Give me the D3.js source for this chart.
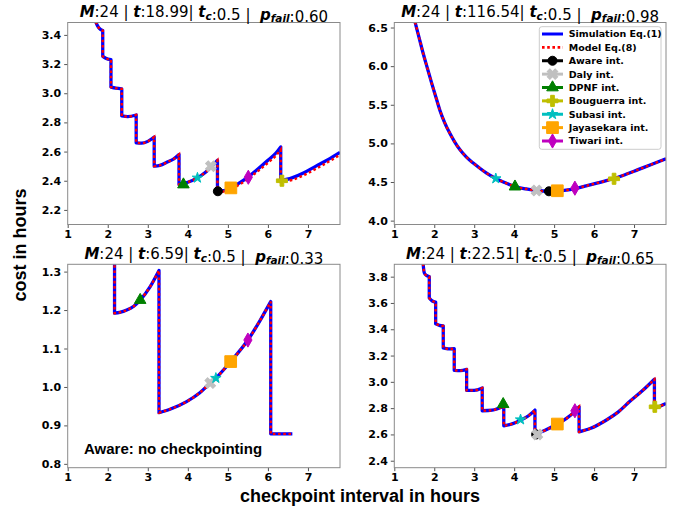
<!DOCTYPE html>
<html>
<head>
<meta charset="utf-8">
<script src="https://cdn.jsdelivr.net/npm/d3@7"></script>
<style>
body { margin: 0; background: #fff; }
svg { display: block; }
</style>
</head>
<body>
<svg id="vis" width="678" height="512"></svg>
<script>
var svg = d3.select("#vis");

// legend entries / marker styles
var methods = ["Aware int.", "Daly int.", "DPNF int.", "Bouguerra int.", "Subasi int.", "Jayasekara int.", "Tiwari int."];
var methodColors = ["#000000", "#c0c0c0", "#008000", "#bfbf00", "#00bfbf", "#ffa500", "#bf00bf"];
var methodShapes = ["circle", "x", "triangle", "plus", "star", "square", "diamond"];

// title values
var tVals = ["18.99", "116.54", "6.59", "22.51"];
var pfailVals = ["0.60", "0.98", "0.33", "0.65"];
var mVal = "24", tcVal = "0.5";

var xTicks = [1, 2, 3, 4, 5, 6, 7];
var yTicks1 = [2.2, 2.4, 2.6, 2.8, 3.0, 3.2, 3.4];
var yTicks2 = [4.0, 4.5, 5.0, 5.5, 6.0, 6.5];
var yTicks3 = [0.8, 0.9, 1.0, 1.1, 1.2, 1.3];
var yTicks4 = [2.4, 2.6, 2.8, 3.0, 3.2, 3.4, 3.6, 3.8];
var xDomain = [1, 7.8];
var yDomains = [[2.1, 3.485], [3.95, 6.565], [0.79, 1.319], [2.347, 3.894]];

// cost curves, [interval, cost]
var sim1 = [[1.70,3.49],[1.75,3.46],[1.79,3.445],[1.875,3.43],
  [1.875,3.253],[1.95,3.24],[2.08,3.23],
  [2.08,3.042],[2.2,3.035],[2.35,3.03],
  [2.35,2.844],[2.5,2.84],[2.71,2.851],
  [2.71,2.66],[2.85,2.658],[3.0,2.67],[3.16,2.70],
  [3.16,2.50],[3.3,2.505],[3.5,2.53],[3.65,2.55],[3.78,2.58],
  [3.78,2.375],[4.0,2.39],[4.24,2.42],[4.45,2.46],[4.6,2.50],[4.74,2.54],
  [4.74,2.33],[4.9,2.332],[5.08,2.352],[5.3,2.387],[5.51,2.427],[5.75,2.48],[6.0,2.54],[6.2,2.59],[6.32,2.632],
  [6.32,2.40],[6.6,2.42],[6.9,2.455],[7.2,2.50],[7.5,2.545],[7.8,2.595]];
var model1 = [[1.70,3.49],[1.75,3.46],[1.79,3.445],[1.875,3.43],
  [1.875,3.253],[1.95,3.24],[2.08,3.23],
  [2.08,3.042],[2.2,3.035],[2.35,3.03],
  [2.35,2.844],[2.5,2.84],[2.71,2.851],
  [2.71,2.66],[2.85,2.658],[3.0,2.67],[3.16,2.70],
  [3.16,2.50],[3.3,2.505],[3.5,2.53],[3.65,2.55],[3.78,2.58],
  [3.78,2.375],[4.0,2.39],[4.24,2.42],[4.45,2.46],[4.6,2.50],[4.74,2.54],
  [4.74,2.325],[4.9,2.326],[5.08,2.343],[5.3,2.376],[5.51,2.414],[5.75,2.466],[6.0,2.523],[6.2,2.572],[6.32,2.612],
  [6.32,2.392],[6.6,2.405],[6.9,2.438],[7.2,2.482],[7.5,2.528],[7.8,2.578]];
var sim2 = [[1.52,6.57],[1.62,6.37],[1.725,6.16],[1.83,5.97],[1.935,5.78],[2.04,5.60],[2.14,5.43],
  [2.26,5.27],[2.39,5.13],[2.51,5.02],[2.64,4.92],[2.8,4.825],[2.975,4.745],[3.15,4.675],[3.31,4.615],
  [3.54,4.545],[3.78,4.49],[4.02,4.44],[4.3,4.41],[4.56,4.39],[4.85,4.38],[5.08,4.385],[5.3,4.395],
  [5.52,4.415],[5.8,4.45],[6.1,4.49],[6.5,4.545],[6.8,4.60],[7.1,4.66],[7.45,4.73],[7.8,4.80]];
var model2 = sim2.map(function(d) { return d.slice(); });
var sim3 = [[2.17,1.33],[2.17,1.192],[2.3,1.194],[2.475,1.20],[2.65,1.21],[2.81,1.226],[3.06,1.261],[3.28,1.303],
  [3.28,0.933],[3.6,0.944],[3.97,0.962],[4.3,0.985],[4.56,1.01],[4.70,1.023],[5.07,1.066],[5.5,1.122],[5.81,1.174],[6.07,1.222],
  [6.07,0.878],[6.61,0.878]];
var model3 = sim3.map(function(d) { return d.slice(); });
var sim4 = [[1.72,3.90],[1.75,3.83],[1.80,3.81],[1.875,3.80],
  [1.875,3.638],[1.95,3.615],[2.035,3.607],
  [2.035,3.442],[2.13,3.43],[2.225,3.425],
  [2.225,3.258],[2.36,3.25],[2.5,3.252],
  [2.5,3.088],[2.65,3.085],[2.81,3.095],
  [2.81,2.936],[3.0,2.935],[3.2,2.953],
  [3.2,2.78],[3.45,2.785],[3.74,2.815],
  [3.74,2.666],[3.95,2.68],[4.16,2.708],[4.35,2.74],[4.52,2.785],
  [4.52,2.60],[4.8,2.635],[5.08,2.679],[5.3,2.72],[5.5,2.77],[5.625,2.81],
  [5.625,2.62],[5.9,2.645],[6.31,2.71],[6.6,2.77],[6.89,2.85],[7.2,2.93],[7.51,3.02],
  [7.51,2.80],[7.65,2.815],[7.8,2.835]];
var model4 = sim4.map(function(d) { return d.slice(); });

// marker positions, same order as methods (null = not shown)
var marks1 = [[4.75,2.328],[4.575,2.50],[3.89,2.374],[6.35,2.40],[4.24,2.42],[5.075,2.351],[5.51,2.424]];
var marks2 = [[4.87,4.38],[4.56,4.39],[4.02,4.44],[6.5,4.542],[3.54,4.545],[5.08,4.387],[5.52,4.42]];
var marks3 = [null,[4.56,1.01],[2.81,1.226],null,[4.70,1.023],[5.07,1.066],[5.50,1.122]];
var marks4 = [[4.55,2.60],[4.58,2.60],[3.725,2.83],[7.52,2.81],[4.16,2.713],[5.08,2.679],[5.52,2.78]];

var panels = [
  { box: [67.7, 22.5, 272.3, 202], sim: sim1, model: model1, marks: marks1, yTicks: yTicks1 },
  { box: [394.3, 22.5, 271.7, 202], sim: sim2, model: model2, marks: marks2, yTicks: yTicks2 },
  { box: [67.7, 264.3, 272.3, 203.4], sim: sim3, model: model3, marks: marks3, yTicks: yTicks3 },
  { box: [394.3, 264.3, 271.7, 203.4], sim: sim4, model: model4, marks: marks4, yTicks: yTicks4 }
];

var tickFont = "'DejaVu Sans', sans-serif";
var labelFont = "'Liberation Sans', Arial, sans-serif";

function markerPath(shape) {
  var m = {
    circle: [d3.symbolCircle, 64], x: [d3.symbolCross, 70], triangle: [d3.symbolTriangle, 58],
    plus: [d3.symbolCross, 68], star: [d3.symbolStar, 34], square: [d3.symbolSquare, 137], diamond: [d3.symbolDiamond, 58]
  }[shape];
  return d3.symbol(m[0], m[1])();
}

function drawMarker(g, shape, color, x, y) {
  g.append("path")
    .attr("d", markerPath(shape))
    .attr("transform", `translate(${x},${y})` + (shape == "x" ? " rotate(45)" : ""))
    .attr("fill", color)
    .attr("stroke", color)
    .attr("stroke-width", 1);
}

// split at vertical jumps so each run can be smoothed, then stitch together
function curvePath(pts, x, y) {
  var runs = [[pts[0]]];
  for (var i = 1; i < pts.length; i++) {
    if (pts[i][0] == pts[i - 1][0]) runs.push([pts[i]]);
    else runs[runs.length - 1].push(pts[i]);
  }
  var line = d3.line().x(d => x(d[0])).y(d => y(d[1])).curve(d3.curveMonotoneX);
  return runs.map(function(r, i) {
    var s = r.length > 1 ? line(r) : `M${x(r[0][0])},${y(r[0][1])}`;
    return i ? "L" + s.slice(1) : s;
  }).join("");
}

panels.forEach(function(p, pi) {
  var L = p.box[0], T = p.box[1], W = p.box[2], H = p.box[3];
  var x = d3.scaleLinear().domain(xDomain).range([L, L + W]);
  var y = d3.scaleLinear().domain(yDomains[pi]).range([T + H, T]);

  svg.append("clipPath").attr("id", "clip" + pi)
    .append("rect").attr("x", L).attr("y", T).attr("width", W).attr("height", H);

  var plot = svg.append("g").attr("clip-path", `url(#clip${pi})`);

  plot.append("path")
    .attr("d", curvePath(p.sim, x, y))
    .attr("fill", "none").attr("stroke", "#0000ff").attr("stroke-width", 3.3)
    .attr("stroke-linejoin", "round");
  plot.append("path")
    .attr("d", curvePath(p.model, x, y))
    .attr("fill", "none").attr("stroke", "#ff0000").attr("stroke-width", 2.4)
    .attr("stroke-dasharray", "2.6,2.6");

  p.marks.forEach(function(m, k) {
    if (m) drawMarker(plot, methodShapes[k], methodColors[k], x(m[0]), y(m[1]));
  });

  // axes
  var ya = svg.append("g").attr("transform", `translate(${L},0)`)
    .call(d3.axisLeft(y).tickValues(p.yTicks).tickFormat(d3.format(".1f")).tickSize(3.5).tickPadding(3));
  var xa = svg.append("g").attr("transform", `translate(0,${T + H})`)
    .call(d3.axisBottom(x).tickValues(xTicks).tickFormat(d3.format("d")).tickSize(3.5).tickPadding(2.5));
  [ya, xa].forEach(function(a) {
    a.select(".domain").remove();
    a.selectAll(".tick line").attr("stroke", "#555");
    a.selectAll(".tick text").attr("fill", "#000").style("font-family", tickFont)
      .style("font-size", "11px").style("font-weight", "bold");
  });

  svg.append("rect")
    .attr("x", L).attr("y", T).attr("width", W).attr("height", H)
    .attr("fill", "none").attr("stroke", "#8a8a8a").attr("stroke-width", 1);

  // title with math-style symbols
  var title = svg.append("text")
    .attr("x", L + W / 2).attr("y", T - 5.3)
    .attr("text-anchor", "middle")
    .style("font-family", tickFont).style("font-size", "15px")
    .style("white-space", "pre");
  var bi = function(s) { return title.append("tspan").style("font-weight", "bold").style("font-style", "italic").text(s); };
  var rg = function(s) { return title.append("tspan").text(s); };
  var sub = function(s) {
    title.append("tspan").attr("dy", 2.5).style("font-size", "10.5px").style("font-weight", "bold").style("font-style", "italic").text(s);
    return title.append("tspan").attr("dy", -2.5).text("");
  };
  bi("M"); rg(":" + mVal + " | ");
  bi("t"); rg(":" + tVals[pi] + "| ");
  bi("t"); sub("c"); rg(":" + tcVal + " |  ");
  bi("p"); sub("fail"); rg(":" + pfailVals[pi]);

  if (pi == 2) {
    svg.append("text").attr("x", L + 16.3).attr("y", T + H - 13.7)
      .style("font-family", labelFont).style("font-size", "15px").style("font-weight", "bold")
      .text("Aware: no checkpointing");
  }
});

// legend in the top-right panel
var lg = svg.append("g");
lg.append("rect").attr("x", 539.3).attr("y", 26.7).attr("width", 121.7).attr("height", 122.6)
  .attr("rx", 2.5).attr("fill", "#fff").attr("fill-opacity", 0.8).attr("stroke", "#cccccc");
var legendItems = ["Simulation Eq.(1)", "Model Eq.(8)"].concat(methods);
legendItems.forEach(function(name, i) {
  var ly = 34 + i * 13.375;
  var line = lg.append("line").attr("x1", 542).attr("x2", 563).attr("y1", ly).attr("y2", ly).attr("stroke-width", 3);
  if (i == 0) line.attr("stroke", "#0000ff");
  else if (i == 1) line.attr("stroke", "#ff0000").attr("stroke-dasharray", "2.6,2.6").attr("stroke-width", 2.6);
  else {
    line.attr("stroke", methodColors[i - 2]);
    drawMarker(lg, methodShapes[i - 2], methodColors[i - 2], 552.5, ly);
  }
  lg.append("text").attr("x", 568.7).attr("y", ly).attr("dy", "0.36em")
    .style("font-family", tickFont).style("font-size", "9.5px").style("font-weight", "bold")
    .text(name);
});

// shared axis labels
svg.append("text")
  .attr("transform", "translate(26,245) rotate(-90)")
  .attr("text-anchor", "middle")
  .style("font-family", labelFont).style("font-size", "18px").style("font-weight", "bold")
  .text("cost in hours");
svg.append("text")
  .attr("x", 360).attr("y", 502)
  .attr("text-anchor", "middle")
  .style("font-family", labelFont).style("font-size", "18px").style("font-weight", "bold")
  .text("checkpoint interval in hours");
</script>
</body>
</html>
